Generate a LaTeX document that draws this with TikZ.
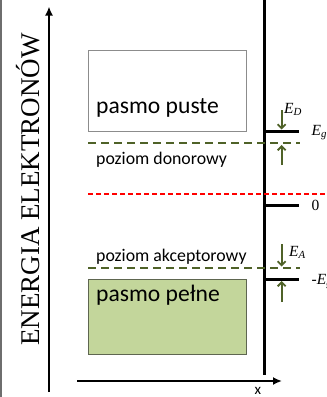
\documentclass[tikz,border=0pt]{standalone}
\usepackage{fontspec}
\setmainfont{Liberation Serif}
\newfontfamily\carlito{Carlito}
\usetikzlibrary{arrows.meta}
\definecolor{oliveD}{HTML}{4F6228}
\definecolor{bandfill}{HTML}{C3D69B}
\definecolor{bandedgeG}{HTML}{5E6650}
\definecolor{bandedgeE}{HTML}{8C8C8C}
\definecolor{frameG}{HTML}{6E6E6E}
\begin{document}
\begin{tikzpicture}[x=1pt,y=-1pt,
  axisline/.style={line width=2.6pt,-{Latex[length=9pt,width=8pt]}},
  vline/.style={line width=3pt},
  tickline/.style={line width=3pt},
  levelG/.style={oliveD,line width=2pt,dash pattern=on 8pt off 5pt},
  levelR/.style={red,line width=1.8pt,dash pattern=on 5pt off 3pt},
  garrow/.style={oliveD,line width=1.8pt,-{Straight Barb[length=4pt,width=8pt]}},
  emptyband/.style={draw=bandedgeE,line width=1pt,minimum width=158pt,minimum height=81pt,anchor=north west,inner sep=0},
  fullband/.style={draw=bandedgeG,fill=bandfill,line width=1pt,minimum width=158pt,minimum height=75pt,anchor=north west,inner sep=0},
  bandlbl/.style={font=\carlito\fontsize{23.6}{26}\selectfont,anchor=base west,inner sep=0},
  lvllbl/.style={font=\carlito\fontsize{17.8}{20}\selectfont,anchor=base west,inner sep=0},
  elbl/.style={font=\fontsize{15.5}{18}\selectfont\itshape,anchor=base west,inner sep=0},
  nlbl/.style={font=\fontsize{15.5}{18}\selectfont,anchor=base west,inner sep=0},
]
\useasboundingbox (0,0) rectangle (327,397);
\clip (0,0) rectangle (327,397);
% left frame line
\draw[frameG,line width=1.5pt] (1,0) -- (1,397);
% energy axis
\coordinate (eBot) at (49,392);
\coordinate (eTop) at (49,6.5);
\draw[axisline] (eBot) -- (eTop);
\node[rotate=90,anchor=base,inner sep=0,font=\fontsize{27}{30}\selectfont] (elab) at (39,189.5) {ENERGIA ELEKTRONÓW};
% x axis
\coordinate (xL) at (77,381);
\coordinate (xR) at (282,381);
\draw[axisline] (xL) -- (xR);
\node[font=\carlito\fontsize{15}{17}\selectfont,anchor=base west,inner sep=0] (xlab) at (254.5,394) {x};
% right vertical line
\coordinate (vT) at (264.3,0);
\coordinate (vB) at (264.3,374.5);
\draw[vline] (vT) -- (vB);
% bands
\node[emptyband] (cb) at (88.3,50.3) {};
\node[fullband] (vb) at (88.3,279.3) {};
\node[bandlbl] (cbl) at (96,113) {pasmo puste};
\node[bandlbl] (vbl) at (96,301) {pasmo pełne};
% levels
\coordinate (dL) at (88,143.3);
\coordinate (dR) at (300,143.3);
\draw[levelG] (dL) -- (dR);
\node[lvllbl] (dlab) at (96,164) {poziom donorowy};
\coordinate (fL) at (88,194);
\coordinate (fR) at (330,194);
\draw[levelR] (fL) -- (fR);
\coordinate (aL) at (88,267.7);
\coordinate (aR) at (300,267.7);
\draw[levelG] (aL) -- (aR);
\node[lvllbl] (alab) at (96,261) {poziom akceptorowy};
% ticks
\coordinate (tg0) at (264.3,131); \coordinate (tg1) at (299,131);
\draw[tickline] (tg0) -- (tg1);
\coordinate (tz0) at (264.3,205); \coordinate (tz1) at (299,205);
\draw[tickline] (tz0) -- (tz1);
\coordinate (tm0) at (264.3,279.5); \coordinate (tm1) at (299,279.5);
\draw[tickline] (tm0) -- (tm1);
% tick labels
\node[elbl] (eg) at (311.5,135.5) {E\textsubscript{g}};
\node[nlbl] (zero) at (311.5,210) {0};
\node[elbl] (meg) at (311.5,284.5) {\upshape-\itshape E\textsubscript{g}};
% green arrows
\coordinate (d1s) at (281.7,110); \coordinate (d1e) at (281.7,129.5);
\draw[garrow] (d1s) -- (d1e);
\coordinate (d2s) at (281.7,165); \coordinate (d2e) at (281.7,145);
\draw[garrow] (d2s) -- (d2e);
\coordinate (a1s) at (281.7,244); \coordinate (a1e) at (281.7,266.5);
\draw[garrow] (a1s) -- (a1e);
\coordinate (a2s) at (281.7,302); \coordinate (a2e) at (281.7,281);
\draw[garrow] (a2s) -- (a2e);
\node[elbl] (edl) at (284,113) {E\textsubscript{D}};
\node[elbl] (eal) at (289,256.5) {E\textsubscript{A}};
\end{tikzpicture}
\end{document}
